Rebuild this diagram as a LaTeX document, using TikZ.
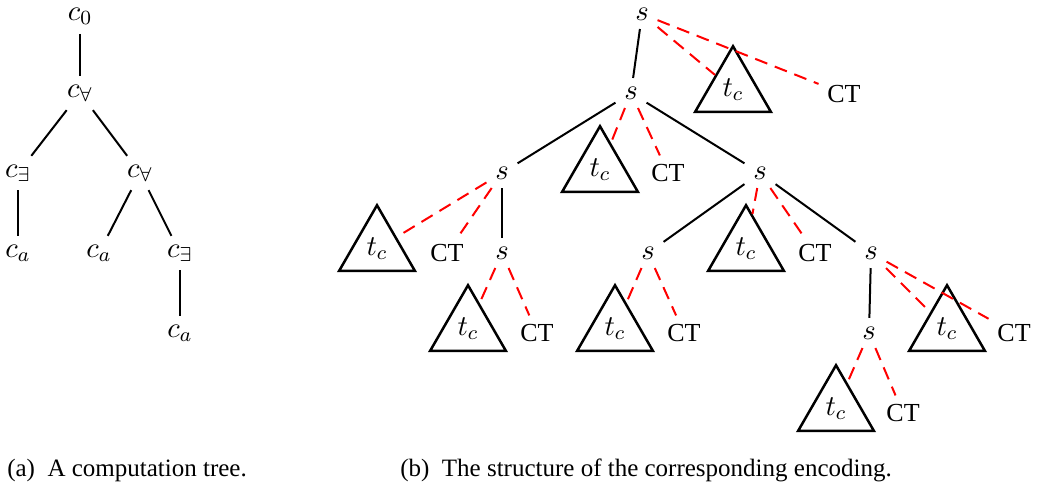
\RequirePackage{fix-cm}
\documentclass[tikz,border=0pt]{standalone}
\usepackage{fontspec}
\setmainfont{Liberation Serif}
\usetikzlibrary{shapes.geometric}
\begin{document}
\begin{tikzpicture}[x=0.4pt,y=-0.4pt,
  every node/.style={font=\fontsize{11.5}{13}\selectfont},
  cttext/.style={font=\fontsize{10.4}{12}\selectfont},
  tedge/.style={line width=0.8pt},
  dedge/.style={red, line width=0.8pt, dash pattern=on 5.2pt off 3.2pt},
  tri/.style={draw, line width=1pt, regular polygon, regular polygon sides=3, minimum size=35pt, inner sep=0pt},
  captext/.style={font=\fontsize{10}{12}\selectfont}]
\useasboundingbox (0,0) rectangle (1037,497);
% left tree
\node[inner ysep=0.5pt, outer ysep=3.3pt] (a0) at (80,16) {$c_0$};
\node (a1) at (80,93) {$c_\forall$};
\node (a2) at (18,173) {$c_\exists$};
\node (a3) at (140,173) {$c_\forall$};
\node (a4) at (18,253) {$c_a$};
\node (a5) at (99,253) {$c_a$};
\node (a6) at (180,253) {$c_\exists$};
\node (a7) at (180,333) {$c_a$};
\draw[tedge] (a0) -- (a1);
\draw[tedge] (a1) -- (a2);
\draw[tedge] (a1) -- (a3);
\draw[tedge] (a2) -- (a4);
\draw[tedge] (a3) -- (a5);
\draw[tedge] (a3) -- (a6);
\draw[tedge] (a6) -- (a7);
% right tree: s nodes
\node (s0) at (642,14) {$s$};
\node (s1) at (631,93) {$s$};
\node (s2) at (502,173) {$s$};
\node (s3) at (760,173) {$s$};
\node (s4) at (502,253) {$s$};
\node (s5) at (648,253) {$s$};
\node (s6) at (871,253) {$s$};
\node (s7) at (869,333) {$s$};
% triangles
\node[tri] (t1) at (733,90) {$t_c$};
\node[tri] (t2) at (600,170) {$t_c$};
\node[tri] (t3) at (377,249) {$t_c$};
\node[tri] (t4) at (468,329) {$t_c$};
\node[tri] (t5) at (615,329) {$t_c$};
\node[tri] (t6) at (746,249) {$t_c$};
\node[tri] (t7) at (947,329) {$t_c$};
\node[tri] (t8) at (836,409) {$t_c$};
% CT
\node[cttext] (c1) at (844,94) {CT};
\node[cttext] (c2) at (668,173) {CT};
\node[cttext] (c3) at (447,253) {CT};
\node[cttext] (c4) at (537,333) {CT};
\node[cttext] (c5) at (684,333) {CT};
\node[cttext] (c6) at (815,253) {CT};
\node[cttext] (c7) at (1014,333) {CT};
\node[cttext] (c8) at (903,413) {CT};
% solid edges
\draw[tedge] (s0) -- (s1);
\draw[tedge] (s1) -- (s2);
\draw[tedge] (s1) -- (s3);
\draw[tedge] (s2) -- (s4);
\draw[tedge] (s3) -- (s5);
\draw[tedge] (s3) -- (s6);
\draw[tedge] (s6) -- (s7);
% dashed edges
\draw[dedge] (s0) -- (t1);
\draw[dedge] (s0) -- (c1);
\draw[dedge] (s1) -- (t2);
\draw[dedge] (s1) -- (c2);
\draw[dedge] (s2) -- (t3);
\draw[dedge] (s2) -- (c3);
\draw[dedge] (s4) -- (t4);
\draw[dedge] (s4) -- (c4);
\draw[dedge] (s5) -- (t5);
\draw[dedge] (s5) -- (c5);
\draw[dedge] (s3) -- (t6);
\draw[dedge] (s3) -- (c6);
\draw[dedge] (s6) -- (t7);
\draw[dedge] (s6) -- (c7);
\draw[dedge] (s7) -- (t8);
\draw[dedge] (s7) -- (c8);
% captions
\node[captext] (capa) at (127,470) {(a)\enspace A computation tree.};
\node[captext] (capb) at (646,470) {(b)\enspace The structure of the corresponding encoding.};
\end{tikzpicture}
\end{document}
